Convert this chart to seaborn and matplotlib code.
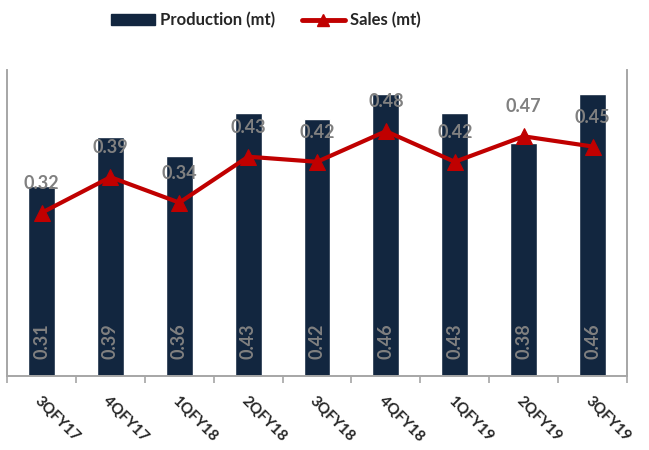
import numpy as np
import pandas as pd
import matplotlib
matplotlib.use("Agg")
import matplotlib.pyplot as plt
import seaborn as sns
from matplotlib.patches import Patch
from matplotlib.lines import Line2D

quarters = ['3QFY17', '4QFY17', '1QFY18', '2QFY18', '3QFY18',
            '4QFY18', '1QFY19', '2QFY19', '3QFY19']
production = [0.31, 0.39, 0.36, 0.43, 0.42, 0.46, 0.43, 0.38, 0.46]
sales = [0.32, 0.39, 0.34, 0.43, 0.42, 0.48, 0.42, 0.47, 0.45]

df = pd.DataFrame({'Quarter': quarters, 'Production': production, 'Sales': sales})
df['pos'] = np.arange(len(df))

sns.set_style("white")
plt.rcParams['font.family'] = ['Lato', 'DejaVu Sans']

navy = '#12263F'
red = '#C00000'
grey = '#808080'

fig = plt.figure(figsize=(6.49, 4.50), dpi=100)
ax = fig.add_axes([0.011, 0.1644, 0.955, 0.68])

sns.barplot(x='Quarter', y='Production', data=df, color=navy, width=0.39,
            saturation=1, ax=ax)
ax.set_ylim(0, 0.5)
ax.set_xlim(-0.5, len(df) - 0.5)

ax2 = ax.twinx()
sns.lineplot(x='pos', y='Sales', data=df, color=red, linewidth=3, marker='^',
             markersize=11, markeredgecolor=red, sort=False, ax=ax2)
ax2.set_ylim(0, 0.6)

# labels
for i, v in enumerate(production):
    ax.annotate(f'{v:.2f}', (i, 0), xytext=(0, 12), textcoords='offset points',
                rotation=90, ha='center', va='bottom', color=grey, fontsize=13,
                fontweight='bold')
for i, v in enumerate(sales):
    ax2.annotate(f'{v:.2f}', (i, v), xytext=(0, 15), textcoords='offset points',
                 ha='center', va='bottom', color=grey, fontsize=13, fontweight='bold')

for a in (ax, ax2):
    a.set_xlabel('')
    a.set_ylabel('')
    a.set_yticks([])
    a.spines['top'].set_visible(False)
    for s in ('left', 'right', 'bottom'):
        a.spines[s].set_color('#A6A6A6')
        a.spines[s].set_linewidth(1.2)

ax.set_xticks(np.arange(-0.5, len(df), 1.0))
ax.set_xticklabels([])
ax.tick_params(axis='x', which='major', direction='out', length=5, width=1.2,
               color='#A6A6A6', bottom=True)
ax.set_xticks(np.arange(len(df)), minor=True)
ax.set_xticklabels(quarters, minor=True, rotation=-45, ha='left', va='top',
                   rotation_mode='anchor', fontsize=11, fontweight='bold')
ax.tick_params(axis='x', which='minor', length=0, pad=13)

handles = [Patch(facecolor=navy, edgecolor=navy),
           Line2D([0], [0], color=red, linewidth=3.5, marker='^', markersize=9)]
fig.legend(handles, ['Production (mt)', 'Sales (mt)'], loc='center',
           bbox_to_anchor=(0.41, 0.955), ncol=2, frameon=False,
           prop={'weight': 'bold', 'size': 12}, handlelength=2.6,
           columnspacing=1.6, handletextpad=0.3)

fig.savefig('out.png', dpi=100)
